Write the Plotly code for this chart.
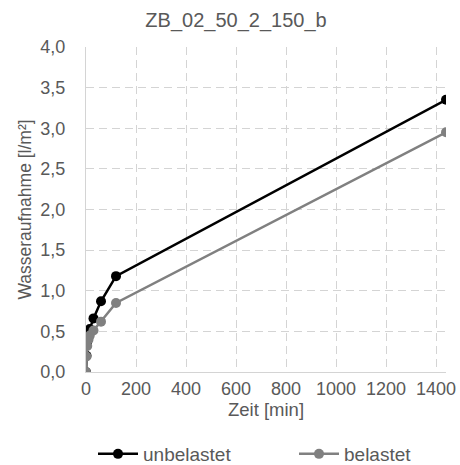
import plotly.graph_objects as go

# Measurement times in minutes
zeit_min = [0, 2, 5, 10, 15, 30, 60, 120, 1440]

# Water uptake in l/m²
unbelastet = [0.0, 0.20, 0.37, 0.43, 0.53, 0.66, 0.87, 1.18, 3.35]
belastet = [0.0, 0.19, 0.32, 0.40, 0.45, 0.51, 0.62, 0.85, 2.95]

x_ticks = [0, 200, 400, 600, 800, 1000, 1200, 1400]
y_ticks = [0.0, 0.5, 1.0, 1.5, 2.0, 2.5, 3.0, 3.5, 4.0]

txt = "#595959"
grid = "#d4d4d4"
font = "Liberation Sans, Arial, sans-serif"

fig = go.Figure()
fig.add_trace(go.Scatter(
    x=zeit_min, y=unbelastet, name="unbelastet", mode="lines+markers",
    line=dict(color="#000000", width=2.5),
    marker=dict(color="#000000", size=10),
    legend="legend",
))
fig.add_trace(go.Scatter(
    x=zeit_min, y=belastet, name="belastet", mode="lines+markers",
    line=dict(color="#808080", width=2.5),
    marker=dict(color="#808080", size=10),
    legend="legend2",
))

legend_common = dict(
    orientation="h", xref="container", xanchor="left",
    yref="container", y=1 - 454 / 465, yanchor="middle",
    font=dict(size=19, color=txt), itemwidth=40,
    bgcolor="rgba(0,0,0,0)",
)

fig.update_layout(
    width=460, height=465,
    margin=dict(l=85.5, r=14, t=47, b=93, autoexpand=False),
    paper_bgcolor="white", plot_bgcolor="white",
    separators=",.",
    font=dict(family=font, color=txt, size=18),
    title=dict(text="ZB_02_50_2_150_b", xref="container", x=236 / 460,
               xanchor="center", yref="container", y=1 - 20 / 465,
               yanchor="middle", font=dict(size=20, color=txt)),
    showlegend=True,
    legend=dict(x=93 / 460, **legend_common),
    legend2=dict(x=294 / 460, **legend_common),
)

fig.update_xaxes(
    range=[0, 1440], tickvals=x_ticks, ticks="", showline=True,
    linecolor=grid, linewidth=1, showgrid=True, gridcolor=grid,
    griddash="8px,5px", gridwidth=1, zeroline=False,
    tickfont=dict(size=18, color=txt),
    title=dict(text="Zeit [min]", font=dict(size=18.5, color=txt), standoff=4),
)
fig.update_yaxes(
    range=[0, 4.0], tickvals=y_ticks, tickformat=".1f", ticks="",
    showline=True, linecolor=grid, linewidth=1, showgrid=True,
    gridcolor=grid, griddash="8px,5px", gridwidth=1, zeroline=False,
    tickfont=dict(size=18, color=txt), ticklabelstandoff=16,
    title=dict(text="Wasseraufnahme [l/m²]", font=dict(size=17.5, color=txt), standoff=4),
)

fig.write_html("out.html")
